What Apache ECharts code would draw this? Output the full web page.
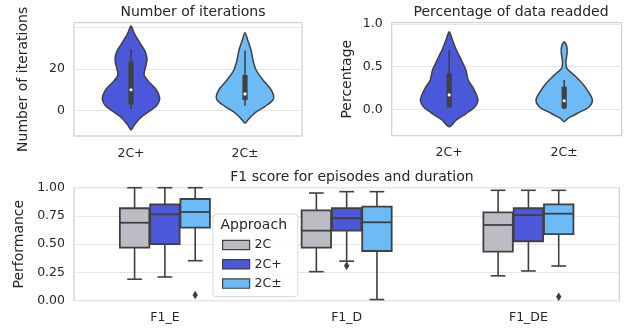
<!DOCTYPE html>
<html>
<head>
<meta charset="utf-8">
<script src="https://cdn.jsdelivr.net/npm/echarts@6/dist/echarts.min.js"></script>
<style>
  html, body { margin: 0; padding: 0; background: #fff; }
  #chart { width: 632px; height: 333px; }
</style>
</head>
<body>
<div id="chart"></div>
<script>
// ---- data ----
const approaches = ['2C', '2C+', '2C±'];
const violinCategories = ['2C+', '2C±'];
const f1Categories = ['F1_E', 'F1_D', 'F1_DE'];

// violin outlines: [value, relative density (1 = widest)]
const iterDensity2Cplus = [
  [40.6, 0], [37.1, 0.115], [32.3, 0.32], [28.3, 0.5], [24.3, 0.56], [20.3, 0.5],
  [17.1, 0.46], [13.9, 0.62], [10.7, 0.85], [7.5, 0.98], [5.1, 1.0], [2.3, 0.9],
  [-0.5, 0.62], [-3.6, 0.32], [-6.9, 0.115], [-9.3, 0]
];
const iterDensity2Cpm = [
  [37.4, 0], [33.9, 0.094], [29.1, 0.21], [24.3, 0.28], [19.5, 0.39], [14.7, 0.63],
  [10.7, 0.88], [7.5, 1.0], [5.1, 0.98], [1.9, 0.69], [-1.2, 0.34], [-4.5, 0.1], [-6.0, 0]
];
const pctDensity2Cplus = [
  [0.91, 0], [0.81, 0.115], [0.695, 0.25], [0.578, 0.42], [0.46, 0.58], [0.343, 0.66],
  [0.246, 0.84], [0.168, 0.95], [0.10, 1.0], [0.03, 0.9], [-0.047, 0.6], [-0.125, 0.25], [-0.204, 0]
];
const pctDensity2Cpm = [
  [0.79, 0], [0.73, 0.094], [0.656, 0.1], [0.558, 0.06], [0.48, 0.094], [0.40, 0.35],
  [0.30, 0.64], [0.205, 0.84], [0.11, 0.98], [0.03, 0.87], [-0.047, 0.46], [-0.105, 0.14], [-0.145, 0]
];

// inner boxes: [lower whisker, q1, median, q3, upper whisker]
const iterBox2Cplus = [0.7, 3, 10, 23.5, 29.4];
const iterBox2Cpm = [2.3, 5.1, 8.0, 17.1, 28.8];
const pctBox2Cplus = [0.02, 0.023, 0.168, 0.42, 0.695];
const pctBox2Cpm = [0.0, 0.01, 0.10, 0.265, 0.343];

// F1 boxes per category (F1_E, F1_D, F1_DE): [lower whisker, q1, median, q3, upper whisker]
const f1Box2C = [
  [0.19, 0.47, 0.69, 0.818, 1.0],
  [0.257, 0.47, 0.62, 0.80, 0.953],
  [0.22, 0.434, 0.67, 0.782, 0.977]
];
const f1Box2Cplus = [
  [0.21, 0.50, 0.765, 0.853, 1.0],
  [0.35, 0.62, 0.73, 0.818, 0.965],
  [0.263, 0.526, 0.758, 0.818, 0.977]
];
const f1Box2Cpm = [
  [0.354, 0.646, 0.785, 0.90, 1.0],
  [0.01, 0.44, 0.694, 0.832, 0.965],
  [0.307, 0.59, 0.77, 0.853, 0.977]
];
const f1Outliers2C = [];
const f1Outliers2Cplus = [['F1_D', 0.31]];
const f1Outliers2Cpm = [['F1_E', 0.05], ['F1_DE', 0.035]];

// axis ticks
const iterGridValues = [0, 20, 40];
const iterTickLabels = [0, 20];
const pctTickLabels = [0, 0.5, 1.0];

// ---- styling ----
const FONT = 'DejaVu Sans';
const TEXT = '#262626';
const OUTLINE = '#404040';
const GRID_LINE = '#e5e5e5';
const FRAME = '#d3d3d3';
const COLORS = { '2C': '#bcbcc4', '2C+': '#4a58d9', '2C±': '#6cbaf6' };

const chart = echarts.init(document.getElementById('chart'), null, { renderer: 'canvas' });

function violinRenderer(densities, boxes) {
  return function (params, api) {
    const i = params.dataIndex;
    const cat = api.value(0);
    const cx = api.coord([cat, 0])[0];
    const band = api.size([1, 0])[0];
    const half = band * 0.25;
    const y = v => api.coord([cat, v])[1];
    const dens = densities[i];
    const st = boxes[i];
    const right = dens.map(d => [cx + d[1] * half, y(d[0])]);
    const left = dens.slice(1, -1).reverse().map(d => [cx - d[1] * half, y(d[0])]);
    return {
      type: 'group',
      children: [
        { type: 'polygon', shape: { points: right.concat(left), smooth: 0.3 },
          style: { fill: COLORS[violinCategories[i]], stroke: OUTLINE, lineWidth: 1.5 } },
        { type: 'line', shape: { x1: cx, y1: y(st[0]), x2: cx, y2: y(st[4]) },
          style: { stroke: OUTLINE, lineWidth: 1.6 } },
        { type: 'rect', shape: { x: cx - 2.6, y: y(st[3]), width: 5.2, height: y(st[1]) - y(st[3]) },
          style: { fill: OUTLINE } },
        { type: 'circle', shape: { cx: cx, cy: y(st[2]), r: 1.6 }, style: { fill: '#ffffff' } }
      ]
    };
  };
}

const HUE_STEP = 0.1667;
const BOX_FRAC = 0.162;

function boxRenderer(hueIdx) {
  return function (params, api) {
    const cat = api.value(0);
    const band = api.size([1, 0])[0];
    const cx = api.coord([cat, 0])[0] + (hueIdx - 1) * band * HUE_STEP;
    const w = band * BOX_FRAC;
    const y = v => api.coord([cat, v])[1];
    const lo = y(api.value(1)), q1 = y(api.value(2)), med = y(api.value(3)),
          q3 = y(api.value(4)), hi = y(api.value(5));
    const ls = { stroke: OUTLINE, lineWidth: 1.6 };
    return {
      type: 'group',
      children: [
        { type: 'line', shape: { x1: cx, y1: q1, x2: cx, y2: lo }, style: ls },
        { type: 'line', shape: { x1: cx, y1: q3, x2: cx, y2: hi }, style: ls },
        { type: 'line', shape: { x1: cx - w / 4, y1: lo, x2: cx + w / 4, y2: lo }, style: ls },
        { type: 'line', shape: { x1: cx - w / 4, y1: hi, x2: cx + w / 4, y2: hi }, style: ls },
        { type: 'rect', shape: { x: cx - w / 2, y: q3, width: w, height: q1 - q3 },
          style: { fill: COLORS[approaches[hueIdx]], stroke: OUTLINE, lineWidth: 1.8 } },
        { type: 'line', shape: { x1: cx - w / 2, y1: med, x2: cx + w / 2, y2: med },
          style: { stroke: OUTLINE, lineWidth: 1.8 } }
      ]
    };
  };
}

function outlierRenderer(hueIdx) {
  return function (params, api) {
    const cat = api.value(0);
    const band = api.size([1, 0])[0];
    const cx = api.coord([cat, 0])[0] + (hueIdx - 1) * band * HUE_STEP;
    const cy = api.coord([cat, api.value(1)])[1];
    return {
      type: 'polygon',
      shape: { points: [[cx, cy - 4.3], [cx + 2.7, cy], [cx, cy + 4.3], [cx - 2.7, cy]] },
      style: { fill: OUTLINE }
    };
  };
}

const catAxisCommon = {
  type: 'category',
  axisLine: { show: false },
  axisTick: { show: false },
  splitLine: { show: false },
  axisLabel: { color: TEXT, fontFamily: FONT, fontSize: 12.5, margin: 11 }
};
const valAxisCommon = {
  type: 'value',
  axisLine: { show: false },
  nameLocation: 'middle',
  nameTextStyle: { color: TEXT, fontFamily: FONT, fontSize: 14 },
  splitLine: { show: true, lineStyle: { color: GRID_LINE, width: 1.2 } }
};
const gridCommon = { show: true, borderColor: FRAME, borderWidth: 1.3, backgroundColor: '#fff' };

const option = {
  animation: false,
  backgroundColor: '#ffffff',
  title: [
    { text: 'Number of iterations', left: 188, top: 0, textAlign: 'center',
      textStyle: { color: TEXT, fontFamily: FONT, fontSize: 14, fontWeight: 'normal' } },
    { text: 'Percentage of data readded', left: 506, top: 0, textAlign: 'center',
      textStyle: { color: TEXT, fontFamily: FONT, fontSize: 14, fontWeight: 'normal' } },
    { text: 'F1 score for episodes and duration', left: 347, top: 165, textAlign: 'center',
      textStyle: { color: TEXT, fontFamily: FONT, fontSize: 14, fontWeight: 'normal' } }
  ],
  grid: [
    Object.assign({ left: 74, top: 22.7, width: 228, height: 113.3 }, gridCommon),
    Object.assign({ left: 391.7, top: 22.7, width: 230, height: 113 }, gridCommon),
    Object.assign({ left: 74, top: 187.7, width: 545.3, height: 113 }, gridCommon)
  ],
  xAxis: [
    Object.assign({ gridIndex: 0, data: violinCategories }, catAxisCommon),
    Object.assign({ gridIndex: 1, data: violinCategories }, catAxisCommon),
    Object.assign({ gridIndex: 2, data: f1Categories }, catAxisCommon)
  ],
  yAxis: [
    Object.assign({}, valAxisCommon, {
      gridIndex: 0, min: -12.2, max: 42.2, name: 'Number of iterations', nameGap: 44,
      axisTick: { show: false, customValues: iterGridValues },
      axisLabel: { customValues: iterTickLabels, color: TEXT, fontFamily: FONT, fontSize: 12.5, margin: 9 }
    }),
    Object.assign({}, valAxisCommon, {
      gridIndex: 1, min: -0.31, max: 1.015, name: 'Percentage', nameGap: 37,
      axisTick: { show: false, customValues: pctTickLabels },
      axisLabel: { customValues: pctTickLabels, formatter: v => v.toFixed(1),
        color: TEXT, fontFamily: FONT, fontSize: 12.5, margin: 9 }
    }),
    Object.assign({}, valAxisCommon, {
      gridIndex: 2, min: 0, max: 1, interval: 0.25, name: 'Performance', nameGap: 46,
      axisTick: { show: false },
      axisLabel: { formatter: v => v.toFixed(2), color: TEXT, fontFamily: FONT, fontSize: 12.5, margin: 9 }
    })
  ],
  legend: {
    orient: 'vertical',
    left: 213, top: 214,
    padding: [24, 16, 6, 9],
    itemGap: 5.3,
    itemWidth: 27, itemHeight: 9.3,
    icon: 'rect',
    backgroundColor: 'rgba(255,255,255,0.85)',
    borderColor: '#d8d8d8', borderWidth: 1, borderRadius: 3,
    textStyle: { color: TEXT, fontFamily: FONT, fontSize: 12.5, lineHeight: 14 },
    data: approaches.map(a => ({
      name: a,
      itemStyle: { color: COLORS[a], borderColor: OUTLINE, borderWidth: 1.2 }
    }))
  },
  graphic: [
    { type: 'text', left: 220.5, top: 218.5, z: 100,
      style: { text: 'Approach', fill: TEXT, font: '14px "DejaVu Sans"' } }
  ],
  series: [
    { type: 'custom', name: 'iterations', xAxisIndex: 0, yAxisIndex: 0,
      data: violinCategories.map((c, i) => [i]), encode: { x: 0 },
      renderItem: violinRenderer([iterDensity2Cplus, iterDensity2Cpm], [iterBox2Cplus, iterBox2Cpm]) },
    { type: 'custom', name: 'readded', xAxisIndex: 1, yAxisIndex: 1,
      data: violinCategories.map((c, i) => [i]), encode: { x: 0 },
      renderItem: violinRenderer([pctDensity2Cplus, pctDensity2Cpm], [pctBox2Cplus, pctBox2Cpm]) },
    ...[f1Box2C, f1Box2Cplus, f1Box2Cpm].map((boxes, h) => ({
      type: 'custom', name: approaches[h], xAxisIndex: 2, yAxisIndex: 2,
      itemStyle: { color: COLORS[approaches[h]] },
      data: boxes.map((b, i) => [i].concat(b)), encode: { x: 0, y: [1, 2, 3, 4, 5] },
      renderItem: boxRenderer(h)
    })),
    ...[f1Outliers2C, f1Outliers2Cplus, f1Outliers2Cpm].map((pts, h) => ({
      type: 'custom', name: 'outliers ' + approaches[h], xAxisIndex: 2, yAxisIndex: 2,
      data: pts.map(p => [f1Categories.indexOf(p[0]), p[1]]), encode: { x: 0, y: 1 },
      renderItem: outlierRenderer(h)
    }))
  ]
};

chart.setOption(option);
</script>
</body>
</html>
